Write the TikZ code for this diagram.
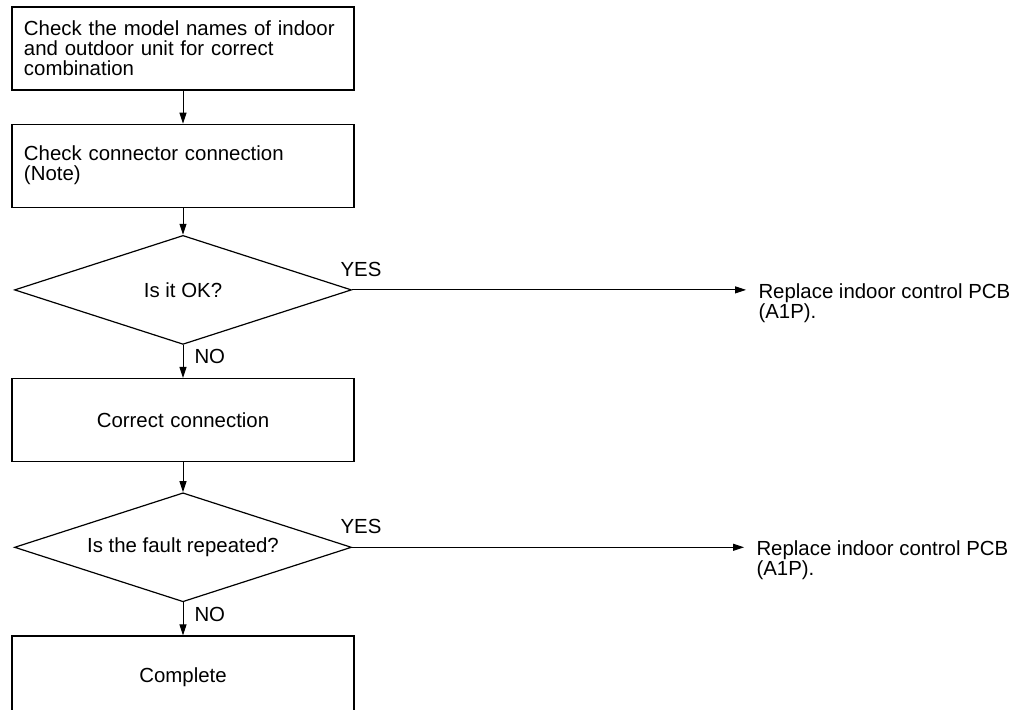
\documentclass[tikz,border=0pt]{standalone}
\usepackage{fontspec}
\setmainfont{Liberation Sans}
\usepackage{tikz}
\usetikzlibrary{arrows.meta, positioning, shapes.geometric, calc}

\begin{document}
\begin{tikzpicture}[
    node distance=16.5pt,
    font=\fontsize{10.2pt}{10pt}\selectfont,
    box/.style={
        rectangle,
        draw,
        line width=0.6pt,
        minimum width=171pt,
        minimum height=41.5pt,
        text width=159pt,
        inner xsep=6pt,
        align=left
    },
    cbox/.style={box, align=center},
    dec/.style={
        diamond,
        draw,
        line width=0.6pt,
        aspect=3.1,
        minimum width=168.5pt,
        minimum height=54.5pt,
        inner sep=0pt
    },
    arr/.style={-{Triangle[length=5.5pt, width=3.5pt]}, line width=0.5pt},
    lab/.style={inner sep=0pt},
    res/.style={align=left, inner xsep=6pt, inner ysep=0pt}
]

\useasboundingbox (0,0) rectangle (515.5pt,-355pt);

\node[box] (chk) at (91.5pt,-24.25pt) {Check the model names of indoor\\and outdoor unit for correct\\combination};
\node[box, below=of chk] (conn) {Check connector connection\\(Note)};
\node[dec, below=13.5pt of conn] (ok) {Is it OK?};
\node[cbox, below=of ok] (fix) {Correct connection};
\node[dec, below=15pt of fix] (rep) {Is the fault repeated?};
\node[cbox, below=of rep] (done) {Complete};

\node[res, right=197pt of ok.east, anchor=north west, yshift=3.5pt] (pcb1) {Replace indoor control PCB\\(A1P).};
\node[res, right=196pt of rep.east, anchor=north west, yshift=3.5pt] (pcb2) {Replace indoor control PCB\\(A1P).};

\draw[arr] (chk) -- (conn);
\draw[arr] (conn) -- (ok);
\draw[arr] (ok) -- node[lab, pos=0, anchor=north west, xshift=5.5pt, yshift=-2pt]{NO} (fix);
\draw[arr] (ok.east) -- node[lab, pos=0, anchor=south west, xshift=-6pt, yshift=6.5pt]{YES} (ok.east -| pcb1.west);
\draw[arr] (fix) -- (rep);
\draw[arr] (rep) -- node[lab, pos=0, anchor=north west, xshift=5.5pt, yshift=-2pt]{NO} (done);
\draw[arr] (rep.east) -- node[lab, pos=0, anchor=south west, xshift=-6pt, yshift=6.5pt]{YES} (rep.east -| pcb2.west);

\end{tikzpicture}
\end{document}
